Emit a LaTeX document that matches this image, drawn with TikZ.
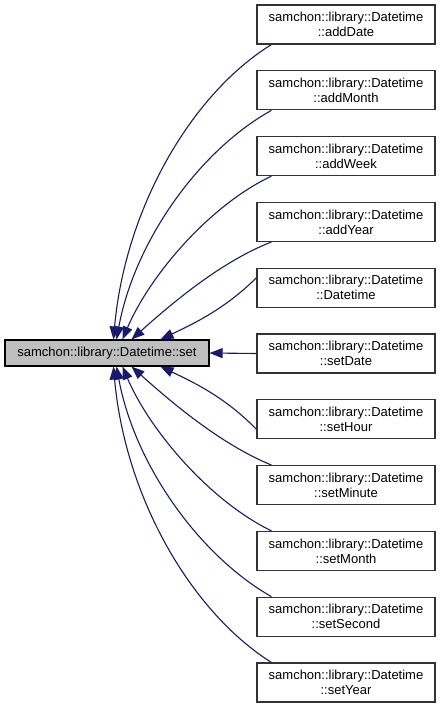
\documentclass[tikz,border=0pt]{standalone}
\usepackage{fontspec}
\setmainfont{Liberation Sans}
\usetikzlibrary{arrows.meta}
\definecolor{edgecol}{HTML}{191970}
\definecolor{boxgray}{HTML}{BFBFBF}
\tikzset{
  rbox/.style={draw=black!80, line width=1.1pt, fill=white, minimum width=178pt, minimum height=39pt, inner sep=0pt, align=center, font=\fontsize{13}{15}\selectfont},
  lbox/.style={draw=black, line width=1.1pt, fill=boxgray, minimum width=204pt, minimum height=26pt, inner sep=0pt, font=\fontsize{13}{14}\selectfont},
  edge/.style={draw=edgecol, line width=1.1pt, -{Triangle[length=13pt,width=10pt]}, fill=none}
}
\begin{document}
\begin{tikzpicture}[x=1pt,y=-1pt]
\useasboundingbox (0,0) rectangle (441,705);
\node[lbox] (L) at (107,353) {samchon::library::Datetime::set};
\foreach \n/\t [count=\i from 0] in {r0/addDate,r1/addMonth,r2/addWeek,r3/addYear,r4/Datetime,r5/setDate,r6/setHour,r7/setMinute,r8/setMonth,r9/setSecond,r10/setYear}{
  \node[rbox] (\n) at (346,{24.5+65.8*\i}) {samchon::library::Datetime\\::\t};
}
% upper edges
\draw[edge] ([xshift=15pt]r0.south west) .. controls (190,95) and (125,210) .. ([xshift=109pt]L.north west);
\draw[edge] ([xshift=15pt]r1.south west) .. controls (200,150) and (135,240) .. ([xshift=112pt]L.north west);
\draw[edge] ([xshift=15pt]r2.south west) .. controls (210,205) and (150,275) .. ([xshift=118pt]L.north west);
\draw[edge] ([xshift=15pt]r3.south west) .. controls (220,262) and (170,305) .. ([xshift=127pt]L.north west);
\draw[edge] ([yshift=10pt]r4.west) .. controls (225,309) and (193,324) .. ([xshift=156pt]L.north west);
\draw[edge] (r5.west) -- (L.east);
% lower edges
\draw[edge] ([yshift=-10pt]r6.west) .. controls (225,397) and (193,382) .. ([xshift=156pt]L.south west);
\draw[edge] ([xshift=15pt]r7.north west) .. controls (220,444) and (170,401) .. ([xshift=127pt]L.south west);
\draw[edge] ([xshift=15pt]r8.north west) .. controls (210,501) and (150,431) .. ([xshift=118pt]L.south west);
\draw[edge] ([xshift=15pt]r9.north west) .. controls (200,556) and (135,466) .. ([xshift=112pt]L.south west);
\draw[edge] ([xshift=15pt]r10.north west) .. controls (190,611) and (125,496) .. ([xshift=109pt]L.south west);
\end{tikzpicture}
\end{document}
